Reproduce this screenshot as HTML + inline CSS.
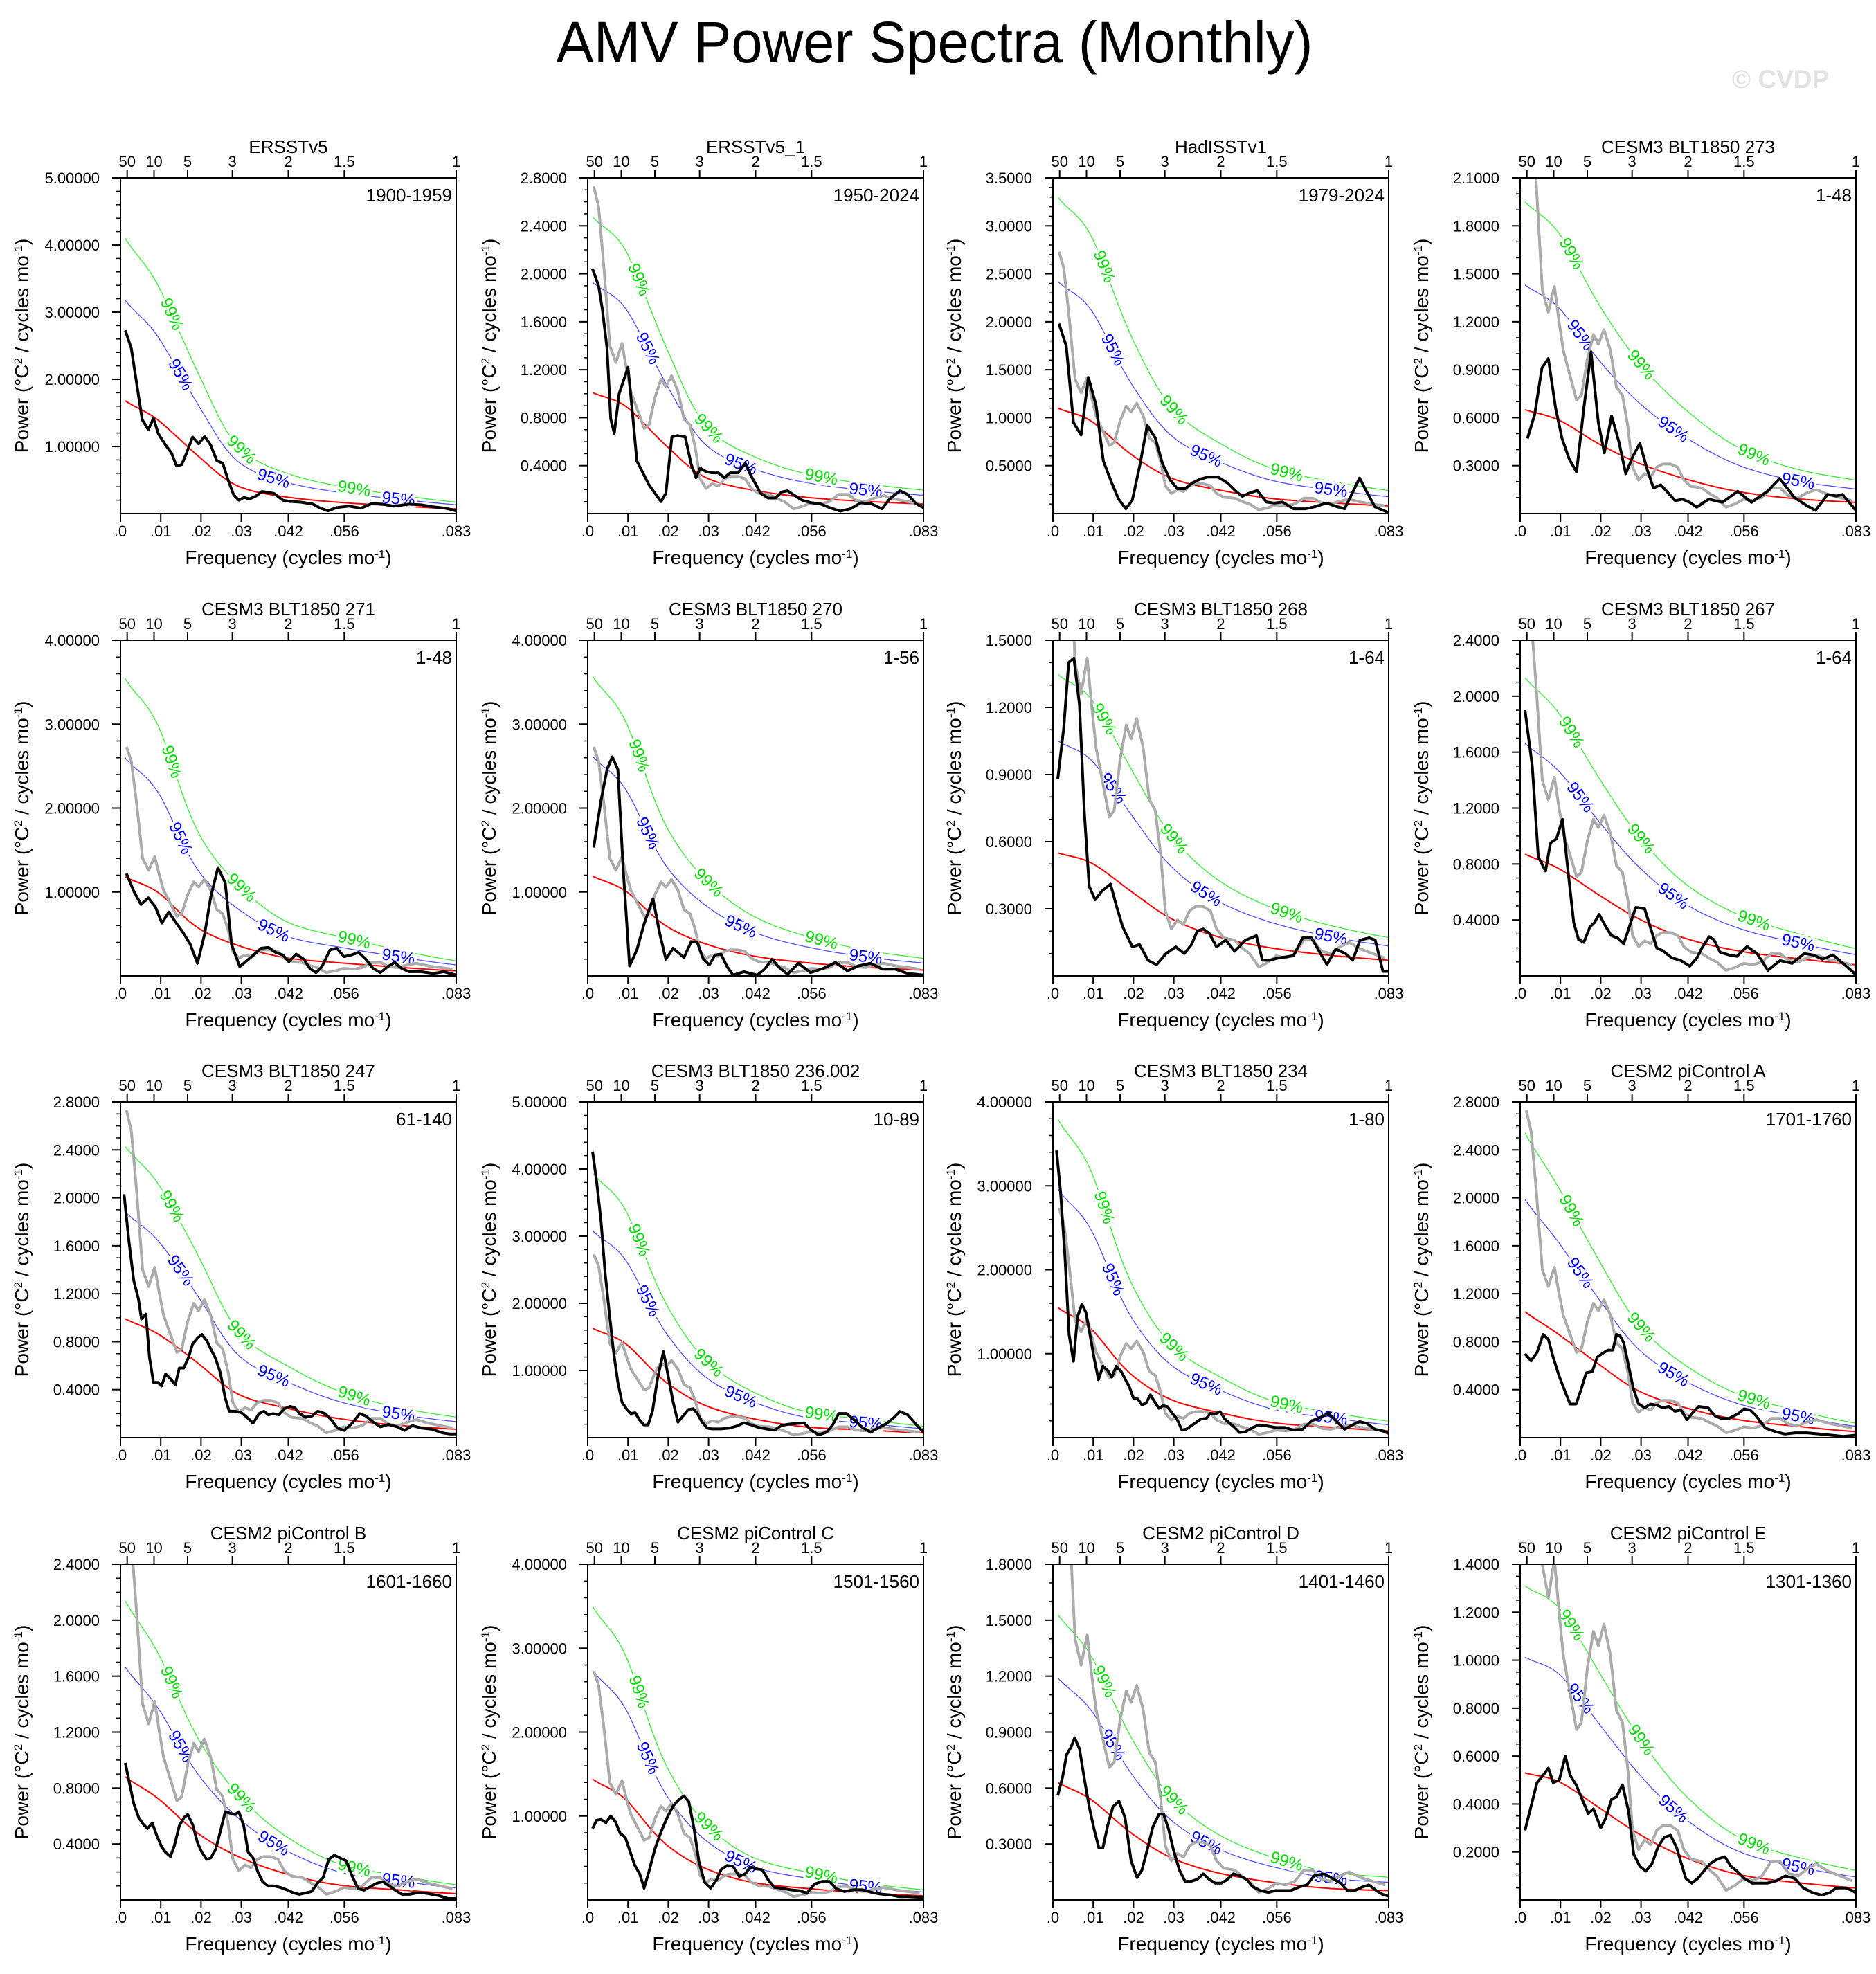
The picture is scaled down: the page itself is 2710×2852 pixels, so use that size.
<!DOCTYPE html>
<html><head><meta charset="utf-8"><title>AMV Power Spectra (Monthly)</title>
<style>
html,body{margin:0;padding:0;background:#fff;}
svg{display:block;font-family:"Liberation Sans",Arial,sans-serif;}
</style></head>
<body>
<svg id="fig" xmlns="http://www.w3.org/2000/svg" width="2710" height="2852" viewBox="0 0 2710 2852">
<rect x="0" y="0" width="2710" height="2852" fill="#fff"/>
<text x="1350" y="90" font-size="84" text-anchor="middle" fill="#000" textLength="1093" lengthAdjust="spacingAndGlyphs">AMV Power Spectra (Monthly)</text>
<text x="2572" y="127" font-size="37" font-weight="bold" text-anchor="middle" fill="#e2e2e2">© CVDP</text>
</svg>
<script>
// ---------- shared data ----------
const redFreqs = [0.0012, 0.01, 0.02, 0.03, 0.042, 0.056, 0.07, 0.0833];
const freqTickValues = [0, 0.01, 0.02, 0.03, 0.04167, 0.05556, 0.08333];
const freqTickLabels = [".0", ".01", ".02", ".03", ".042", ".056", ".083"];
const periodTickYears = [50, 10, 5, 3, 2, 1.5, 1];
const periodTickLabels = ["50", "10", "5", "3", "2", "1.5", "1"];
const sigLabel99Freqs = [0.0127, 0.030, 0.058];
const sigLabel95Freqs = [0.0149, 0.038, 0.069];

// observed reference spectrum (gray), absolute units
const obsGray = [[.0015,2.73],[.0027,2.56],[.004,2.06],[.0055,1.40],[.007,1.26],[.0085,1.42],[.0096,1.21],[.0107,1.02],[.0122,0.88],[.014,0.71],[.0152,0.74],[.0167,0.97],[.0182,1.12],[.0194,1.06],[.0208,1.15],[.0224,1.02],[.0239,0.79],[.0254,0.74],[.0267,0.55],[.0279,0.29],[.0294,0.21],[.0309,0.25],[.0324,0.23],[.0339,0.29],[.0354,0.31],[.0373,0.31],[.0391,0.29],[.0406,0.21],[.0424,0.17],[.0451,0.16],[.0473,0.12],[.0488,0.10],[.0511,0.04],[.0533,0.06],[.0555,0.09],[.0578,0.08],[.060,0.10],[.0623,0.16],[.0645,0.16],[.0667,0.11],[.069,0.10],[.0712,0.13],[.0735,0.15],[.0764,0.12],[.0794,0.10],[.0824,0.08]];

// ---------- per-panel spectra (black) ----------
const p1Black = [[.0012,2.73],[.0027,2.46],[.0042,1.87],[.0054,1.40],[.0069,1.25],[.0082,1.42],[.0094,1.19],[.0112,1.02],[.0127,0.90],[.0139,0.71],[.0152,0.73],[.0164,0.90],[.0179,1.14],[.0194,1.04],[.0209,1.15],[.0224,1.02],[.0239,0.79],[.0254,0.75],[.0266,0.52],[.0281,0.28],[.0294,0.20],[.0306,0.24],[.0321,0.22],[.0336,0.26],[.0351,0.33],[.0381,0.30],[.0403,0.20],[.0421,0.18],[.0448,0.17],[.0478,0.14],[.0493,0.09],[.0515,0.04],[.0537,0.09],[.0567,0.11],[.0597,0.08],[.0624,0.15],[.0649,0.14],[.0679,0.11],[.0716,0.14],[.0746,0.13],[.0776,0.10],[.0806,0.08],[.0833,0.04]];
const p2Black = [[.0012,2.04],[.0027,1.90],[.0036,1.71],[.0048,1.38],[.0057,0.79],[.0066,0.67],[.0078,1.00],[.010,1.22],[.011,0.88],[.0122,0.44],[.0137,0.34],[.0152,0.24],[.0167,0.17],[.0182,0.10],[.0194,0.17],[.0209,0.64],[.0222,0.65],[.0242,0.64],[.0257,0.41],[.0269,0.30],[.0279,0.38],[.0294,0.35],[.0309,0.34],[.0324,0.34],[.0339,0.30],[.0354,0.34],[.0373,0.34],[.0391,0.42],[.0406,0.31],[.0418,0.24],[.0429,0.17],[.0448,0.13],[.0466,0.13],[.0481,0.18],[.0496,0.19],[.0514,0.15],[.0533,0.11],[.0555,0.09],[.0578,0.08],[.060,0.05],[.0627,0.02],[.0652,0.04],[.0678,0.09],[.0705,0.08],[.073,0.04],[.0749,0.12],[.0775,0.19],[.0794,0.16],[.0816,0.08],[.0833,0.05]];
const p3Black = [[.0015,1.98],[.0033,1.75],[.0051,0.95],[.007,0.82],[.0088,1.42],[.0107,1.13],[.0125,0.55],[.0145,0.33],[.0163,0.15],[.0181,0.05],[.0197,0.14],[.0216,0.51],[.0234,0.92],[.0254,0.79],[.0272,0.52],[.0291,0.35],[.0309,0.26],[.0328,0.26],[.0346,0.32],[.0366,0.36],[.0384,0.38],[.041,0.38],[.0433,0.32],[.0455,0.23],[.047,0.18],[.0485,0.21],[.0507,0.24],[.053,0.12],[.0549,0.11],[.057,0.12],[.0597,0.05],[.0627,0.05],[.0649,0.07],[.0679,0.11],[.0699,0.08],[.0724,0.05],[.0761,0.37],[.0799,0.07],[.0833,0.01]];
const p4Black = [[.0018,0.47],[.0036,0.62],[.0054,0.91],[.007,0.97],[.0088,0.66],[.0104,0.47],[.0122,0.34],[.014,0.26],[.0158,0.66],[.0176,1.01],[.0194,0.57],[.0209,0.38],[.0227,0.61],[.0245,0.45],[.0262,0.25],[.028,0.36],[.0297,0.44],[.0316,0.27],[.0331,0.16],[.0349,0.18],[.0367,0.13],[.0385,0.08],[.0403,0.09],[.0421,0.07],[.0438,0.04],[.0468,0.09],[.0502,0.07],[.054,0.14],[.0574,0.07],[.0614,0.14],[.0644,0.22],[.0681,0.10],[.0711,0.05],[.0733,0.02],[.0763,0.12],[.0785,0.11],[.080,0.12],[.0833,0.02]];
const p5Black = [[.0015,1.22],[.0033,1.01],[.0051,0.85],[.0069,0.93],[.0087,0.82],[.0103,0.63],[.012,0.76],[.0137,0.64],[.0155,0.52],[.0173,0.38],[.0191,0.15],[.0209,0.50],[.0224,0.94],[.0242,1.29],[.026,1.11],[.0276,0.37],[.0296,0.11],[.0313,0.18],[.0331,0.25],[.0349,0.33],[.0367,0.34],[.0385,0.28],[.0403,0.25],[.0418,0.17],[.0436,0.26],[.0455,0.20],[.047,0.09],[.0485,0.04],[.050,0.11],[.052,0.31],[.0537,0.33],[.0555,0.23],[.0573,0.25],[.0591,0.28],[.0609,0.20],[.0627,0.09],[.0645,0.04],[.0663,0.11],[.068,0.16],[.0698,0.09],[.0716,0.05],[.0746,0.05],[.0776,0.03],[.0803,0.05],[.0833,0.01]];
const p6Black = [[.0015,1.53],[.0033,2.09],[.0048,2.46],[.0061,2.61],[.0075,2.46],[.0088,1.28],[.0104,0.12],[.0122,0.31],[.014,0.62],[.0162,0.92],[.0179,0.50],[.0194,0.20],[.0212,0.33],[.0239,0.22],[.0257,0.41],[.0272,0.40],[.0287,0.20],[.0302,0.13],[.0316,0.25],[.0331,0.26],[.0346,0.11],[.0361,0.01],[.0388,0.05],[.0421,0.01],[.0439,0.08],[.0458,0.20],[.0473,0.11],[.0496,0.02],[.0523,0.15],[.0553,0.04],[.0585,0.09],[.0615,0.16],[.0645,0.06],[.0672,0.12],[.0702,0.15],[.0732,0.08],[.0764,0.08],[.0794,0.03],[.0833,0.01]];
const p7Black = [[.0012,0.88],[.0027,1.11],[.0039,1.40],[.0052,1.42],[.0066,1.21],[.0078,0.73],[.009,0.40],[.0105,0.34],[.0122,0.38],[.0143,0.41],[.0158,0.31],[.0173,0.22],[.0197,0.13],[.0215,0.14],[.0236,0.07],[.0257,0.05],[.0281,0.10],[.0305,0.13],[.0326,0.10],[.0344,0.14],[.0358,0.20],[.0373,0.21],[.0388,0.19],[.0406,0.13],[.0429,0.16],[.0451,0.11],[.0478,0.16],[.0505,0.18],[.052,0.07],[.0537,0.07],[.056,0.08],[.0597,0.09],[.062,0.17],[.0642,0.17],[.068,0.05],[.0702,0.12],[.0726,0.10],[.0744,0.07],[.0762,0.16],[.0785,0.17],[.080,0.16],[.0819,0.02],[.0833,0.02]];
const p8Black = [[.0012,1.90],[.003,1.50],[.0045,0.85],[.0063,0.75],[.0075,0.95],[.009,0.98],[.0105,1.12],[.0118,0.77],[.0133,0.38],[.0145,0.26],[.0158,0.24],[.0173,0.35],[.0184,0.38],[.0196,0.44],[.0211,0.36],[.0226,0.29],[.0242,0.27],[.0257,0.23],[.0272,0.36],[.0287,0.49],[.0309,0.48],[.0324,0.34],[.0339,0.20],[.0354,0.18],[.0376,0.13],[.0399,0.11],[.0421,0.07],[.0439,0.13],[.0451,0.20],[.0469,0.28],[.0481,0.26],[.0496,0.17],[.0518,0.15],[.0538,0.14],[.0563,0.21],[.0588,0.16],[.0615,0.04],[.0645,0.11],[.0675,0.09],[.0705,0.16],[.0727,0.15],[.075,0.12],[.0776,0.15],[.0801,0.09],[.0833,0.01]];
const p9Black = [[.0009,2.03],[.0021,1.64],[.0033,1.31],[.0045,1.15],[.0052,0.99],[.0063,1.03],[.0072,0.67],[.0082,0.46],[.0093,0.46],[.0102,0.43],[.0112,0.53],[.0124,0.49],[.0136,0.44],[.0146,0.58],[.0157,0.58],[.0169,0.67],[.0179,0.78],[.0191,0.83],[.0202,0.86],[.0214,0.81],[.0224,0.74],[.0236,0.66],[.0248,0.54],[.026,0.33],[.027,0.22],[.0284,0.22],[.0299,0.21],[.0314,0.17],[.0329,0.12],[.0344,0.20],[.0356,0.22],[.0367,0.19],[.0379,0.20],[.0393,0.19],[.0406,0.24],[.0421,0.26],[.0433,0.25],[.0445,0.20],[.046,0.17],[.0475,0.18],[.049,0.22],[.0508,0.20],[.0523,0.15],[.0538,0.08],[.0555,0.06],[.0575,0.12],[.0594,0.20],[.0609,0.18],[.0627,0.13],[.0645,0.09],[.0665,0.11],[.0687,0.09],[.0705,0.06],[.0724,0.10],[.0746,0.08],[.0773,0.07],[.0799,0.04],[.0818,0.03],[.0833,0.03]];
const p10Black = [[.0012,4.26],[.0022,3.82],[.0033,3.23],[.0043,2.47],[.0054,1.84],[.0064,1.29],[.0075,0.82],[.0085,0.53],[.0096,0.43],[.0107,0.36],[.0118,0.37],[.0128,0.27],[.0139,0.19],[.015,0.19],[.0161,0.40],[.0173,0.87],[.0188,1.28],[.020,0.91],[.0212,0.53],[.0224,0.23],[.0236,0.32],[.025,0.42],[.0262,0.43],[.0272,0.36],[.0284,0.23],[.0297,0.14],[.0309,0.13],[.0331,0.13],[.035,0.14],[.0369,0.17],[.0388,0.22],[.0406,0.19],[.0424,0.15],[.0443,0.13],[.0463,0.11],[.0481,0.18],[.0499,0.20],[.0518,0.21],[.0537,0.22],[.0555,0.11],[.0573,0.04],[.0593,0.08],[.0608,0.19],[.0623,0.36],[.0642,0.36],[.066,0.27],[.0682,0.15],[.0702,0.08],[.0723,0.15],[.0742,0.21],[.076,0.30],[.0775,0.39],[.0794,0.34],[.0813,0.21],[.0833,0.08]];
const p11Black = [[.0009,3.42],[.0019,2.92],[.003,2.14],[.004,1.23],[.0051,0.91],[.0061,1.44],[.0072,1.59],[.0082,1.49],[.0093,1.20],[.0103,0.93],[.0113,0.69],[.0124,0.85],[.0136,0.80],[.0146,0.72],[.0157,0.85],[.0169,0.79],[.0179,0.70],[.019,0.60],[.020,0.47],[.0211,0.46],[.0221,0.39],[.0231,0.41],[.0242,0.51],[.0252,0.43],[.0263,0.35],[.0273,0.38],[.0284,0.37],[.0296,0.29],[.0308,0.22],[.032,0.09],[.0331,0.10],[.0343,0.14],[.0355,0.18],[.0367,0.22],[.0381,0.23],[.0391,0.29],[.0403,0.28],[.0415,0.31],[.0427,0.22],[.0439,0.17],[.0451,0.12],[.0463,0.06],[.0478,0.07],[.0496,0.12],[.0511,0.15],[.053,0.14],[.0552,0.12],[.0575,0.12],[.0597,0.09],[.062,0.10],[.0642,0.20],[.0664,0.24],[.0684,0.29],[.0702,0.20],[.0724,0.10],[.0743,0.15],[.0761,0.19],[.0779,0.17],[.0799,0.10],[.0818,0.08],[.0833,0.05]];
const p12Black = [[.0012,0.70],[.0027,0.64],[.0042,0.71],[.0057,0.86],[.007,0.82],[.0082,0.67],[.0097,0.51],[.0112,0.38],[.0124,0.28],[.0139,0.28],[.0152,0.41],[.0164,0.54],[.0179,0.55],[.0191,0.67],[.0203,0.70],[.0218,0.73],[.023,0.73],[.0239,0.86],[.0248,0.85],[.0257,0.79],[.0269,0.60],[.0281,0.41],[.0294,0.28],[.0309,0.25],[.0324,0.28],[.0339,0.27],[.0354,0.25],[.0369,0.26],[.0384,0.22],[.0399,0.23],[.0414,0.15],[.0429,0.21],[.0443,0.26],[.0466,0.25],[.0484,0.18],[.0499,0.16],[.0518,0.16],[.0541,0.20],[.0556,0.24],[.0571,0.23],[.0586,0.18],[.0608,0.08],[.0633,0.05],[.0657,0.03],[.0683,0.04],[.0712,0.04],[.0742,0.03],[.0772,0.02],[.0802,0.01],[.0833,0.02]];
const p13Black = [[.0012,0.98],[.0022,0.84],[.0033,0.69],[.0045,0.59],[.0057,0.54],[.0067,0.51],[.0079,0.55],[.009,0.46],[.0102,0.38],[.0112,0.34],[.0124,0.31],[.0134,0.39],[.0146,0.53],[.0158,0.59],[.0167,0.61],[.0179,0.54],[.0191,0.41],[.0202,0.34],[.0214,0.29],[.0224,0.30],[.0236,0.36],[.0248,0.49],[.026,0.63],[.0272,0.62],[.0284,0.61],[.0294,0.63],[.0306,0.53],[.0317,0.34],[.0329,0.30],[.0341,0.20],[.0353,0.13],[.0366,0.10],[.0381,0.10],[.0396,0.09],[.0415,0.07],[.043,0.05],[.0444,0.04],[.0459,0.05],[.0474,0.06],[.0489,0.12],[.0503,0.16],[.0517,0.29],[.0531,0.32],[.0545,0.30],[.056,0.28],[.0575,0.17],[.059,0.08],[.0605,0.07],[.0623,0.10],[.0637,0.12],[.0652,0.13],[.0667,0.10],[.0682,0.07],[.0699,0.04],[.0717,0.04],[.0735,0.05],[.0754,0.05],[.0773,0.04],[.0791,0.03],[.0813,0.01],[.0833,0.01]];
const p14Black = [[.0012,0.85],[.0022,0.95],[.0033,0.96],[.0045,0.92],[.0057,1.00],[.0069,0.93],[.0081,0.79],[.0093,0.75],[.0105,0.58],[.0117,0.41],[.0129,0.31],[.014,0.14],[.0152,0.34],[.0167,0.61],[.0182,0.81],[.0197,0.98],[.0212,1.12],[.0227,1.20],[.0239,1.24],[.0251,1.17],[.0264,0.85],[.0276,0.46],[.029,0.21],[.0305,0.14],[.032,0.24],[.0331,0.36],[.0346,0.41],[.0361,0.40],[.0376,0.28],[.0391,0.31],[.0403,0.39],[.0418,0.37],[.0433,0.36],[.0448,0.24],[.0463,0.15],[.0481,0.14],[.0503,0.12],[.0526,0.11],[.0544,0.08],[.0563,0.19],[.0582,0.22],[.060,0.22],[.0618,0.13],[.0637,0.10],[.066,0.12],[.0682,0.12],[.0705,0.09],[.0727,0.07],[.075,0.06],[.0772,0.04],[.0794,0.04],[.0833,0.03]];
const p15Black = [[.0012,0.56],[.0024,0.66],[.0034,0.78],[.0045,0.82],[.0054,0.87],[.0066,0.81],[.0078,0.65],[.009,0.50],[.0102,0.38],[.0114,0.28],[.0124,0.28],[.0136,0.40],[.0149,0.50],[.0164,0.53],[.0179,0.44],[.0194,0.21],[.0209,0.12],[.0221,0.16],[.0233,0.26],[.0248,0.39],[.0263,0.46],[.0275,0.46],[.0287,0.38],[.0299,0.27],[.0314,0.16],[.0328,0.10],[.0343,0.10],[.0358,0.11],[.0373,0.14],[.0388,0.11],[.0403,0.09],[.0418,0.09],[.0433,0.11],[.0448,0.14],[.0463,0.13],[.0481,0.11],[.0496,0.07],[.0515,0.05],[.0535,0.04],[.0552,0.05],[.057,0.05],[.059,0.05],[.0612,0.07],[.063,0.08],[.0649,0.13],[.0672,0.14],[.069,0.12],[.0714,0.09],[.0731,0.05],[.0749,0.05],[.0769,0.07],[.0784,0.08],[.0803,0.05],[.0818,0.03],[.0833,0.02]];
const p16Black = [[.0012,0.29],[.0027,0.39],[.0042,0.49],[.0057,0.52],[.007,0.55],[.0082,0.49],[.0097,0.50],[.0112,0.60],[.0124,0.52],[.0139,0.48],[.0154,0.42],[.0169,0.36],[.0182,0.38],[.020,0.30],[.0212,0.34],[.0227,0.42],[.0239,0.43],[.0254,0.48],[.0269,0.37],[.0282,0.19],[.0297,0.14],[.0312,0.12],[.0327,0.15],[.0342,0.22],[.0357,0.26],[.0373,0.27],[.0388,0.22],[.0411,0.09],[.0426,0.07],[.0441,0.09],[.0456,0.12],[.0471,0.15],[.0489,0.17],[.0508,0.18],[.0523,0.14],[.0538,0.12],[.0556,0.09],[.0576,0.07],[.0594,0.07],[.0613,0.07],[.0636,0.08],[.0658,0.10],[.0681,0.09],[.0703,0.05],[.0726,0.03],[.0748,0.02],[.0768,0.03],[.0785,0.05],[.0808,0.05],[.0823,0.04],[.0833,0.03]];

// ---------- per-panel red-noise fits at redFreqs ----------
const p1Red = [1.68,1.36,0.82,0.39,0.24,0.16,0.11,0.07];
const p2Red = [1.01,0.88,0.55,0.29,0.19,0.13,0.10,0.08];
const p3Red = [1.10,0.95,0.60,0.36,0.24,0.15,0.11,0.08];
const p4Red = [0.65,0.58,0.43,0.31,0.21,0.13,0.09,0.07];
const p5Red = [1.18,0.97,0.55,0.35,0.21,0.15,0.10,0.06];
const p6Red = [1.19,0.99,0.58,0.37,0.23,0.15,0.10,0.07];
const p7Red = [0.55,0.50,0.37,0.25,0.17,0.12,0.09,0.07];
const p8Red = [0.87,0.76,0.57,0.40,0.26,0.17,0.12,0.08];
const p9Red = [0.99,0.85,0.60,0.35,0.24,0.15,0.10,0.07];
const p10Red = [1.63,1.37,0.80,0.46,0.27,0.15,0.11,0.07];
const p11Red = [1.55,1.27,0.73,0.44,0.29,0.17,0.12,0.08];
const p12Red = [1.05,0.85,0.60,0.38,0.24,0.14,0.09,0.05];
const p13Red = [0.88,0.71,0.46,0.30,0.18,0.10,0.07,0.045];
const p14Red = [1.44,1.17,0.64,0.36,0.20,0.13,0.08,0.05];
const p15Red = [0.63,0.53,0.35,0.22,0.14,0.09,0.06,0.05];
const p16Red = [0.53,0.49,0.38,0.27,0.17,0.10,0.07,0.05];

// ---------- per-panel significance multipliers [95%, 99%] ----------
const sigMultipliers = [[1.89,2.44],[1.91,2.45],[2.2,3.0],[2.2,3.0],[2.2,3.0],[2.2,3.0],[1.91,2.45],[1.91,2.45],[1.9,2.45],[1.89,2.42],[1.91,2.45],[1.89,2.42],[1.89,2.43],[1.9,2.43],[1.89,2.43],[1.91,2.47]];

// ---------- per-panel titles / periods / axis settings ----------
const panelTitles = ["ERSSTv5","ERSSTv5_1","HadISSTv1","CESM3 BLT1850 273","CESM3 BLT1850 271","CESM3 BLT1850 270","CESM3 BLT1850 268","CESM3 BLT1850 267","CESM3 BLT1850 247","CESM3 BLT1850 236.002","CESM3 BLT1850 234","CESM2 piControl A","CESM2 piControl B","CESM2 piControl C","CESM2 piControl D","CESM2 piControl E"];
const panelPeriods = ["1900-1959","1950-2024","1979-2024","1-48","1-48","1-56","1-64","1-64","61-140","10-89","1-80","1701-1760","1601-1660","1501-1560","1401-1460","1301-1360"];
const yMaxValues = [5.0,2.8,3.5,2.1,4.0,4.0,1.5,2.4,2.8,5.0,4.0,2.8,2.4,4.0,1.8,1.4];
const yMajorSteps = [1,0.4,0.5,0.3,1,1,0.3,0.4,0.4,1,1,0.4,0.4,1,0.3,0.2];
const yMinorSteps = [0.2,0.1,0.1,0.1,0.2,0.2,0.1,0.1,0.1,0.2,0.2,0.1,0.1,0.2,0.1,0.05];

const blackSeries = [p1Black,p2Black,p3Black,p4Black,p5Black,p6Black,p7Black,p8Black,p9Black,p10Black,p11Black,p12Black,p13Black,p14Black,p15Black,p16Black];
const redSeries = [p1Red,p2Red,p3Red,p4Red,p5Red,p6Red,p7Red,p8Red,p9Red,p10Red,p11Red,p12Red,p13Red,p14Red,p15Red,p16Red];

// ---------- layout ----------
const colX = [174, 849, 1521, 2196];
const rowY = [257, 925, 1592, 2260];
const PW = 485, PH = 485, FMAX = 1/12;
const NS = "http://www.w3.org/2000/svg";
const svg = document.getElementById("fig");

function mk(tag, attrs, parent){
  const e = document.createElementNS(NS, tag);
  for (const k in attrs) e.setAttribute(k, attrs[k]);
  parent.appendChild(e);
  return e;
}
function monotone(xs, ys){
  const n = xs.length, d = [], m = new Array(n);
  for (let i=0;i<n-1;i++) d.push((ys[i+1]-ys[i])/(xs[i+1]-xs[i]));
  m[0]=d[0]; m[n-1]=d[n-2];
  for (let i=1;i<n-1;i++) m[i] = (d[i-1]*d[i]<=0)?0:(d[i-1]+d[i])/2;
  for (let i=0;i<n-1;i++){
    if (d[i]===0){m[i]=0;m[i+1]=0;continue;}
    const a=m[i]/d[i], b=m[i+1]/d[i], s=a*a+b*b;
    if (s>9){const t=3/Math.sqrt(s); m[i]=t*a*d[i]; m[i+1]=t*b*d[i];}
  }
  return function(x){
    let i=0; while(i<n-2 && x>xs[i+1]) i++;
    const h=xs[i+1]-xs[i], t=(x-xs[i])/h, t2=t*t, t3=t2*t;
    return (2*t3-3*t2+1)*ys[i]+(t3-2*t2+t)*h*m[i]+(-2*t3+3*t2)*ys[i+1]+(t3-t2)*h*m[i+1];
  };
}
function logSmooth(xs, vals){
  const f = monotone(xs, vals.map(v=>Math.log(v)));
  return x => Math.exp(f(x));
}

for (let p=0;p<16;p++){
  const x0 = colX[p%4], y0 = rowY[Math.floor(p/4)];
  const ymax = yMaxValues[p];
  const xs = f => x0 + f/FMAX*PW;
  const ys = v => y0 + PH - v/ymax*PH;
  const g = mk("g", {}, svg);
  
  

  const clip = mk("clipPath", {id:"clip"+p}, g);
  mk("rect", {x:x0, y:y0, width:PW, height:PH}, clip);

  const red = logSmooth(redFreqs, redSeries[p]);
  const sig = sigMultipliers[p];
  const curveDefs = [[1,"#ff0000",2,"red-noise-curve"],[sig[0],"#5050ff",1.3,"sig95-curve"],[sig[1],"#33ee33",1.3,"sig99-curve"]];
  const cg = mk("g", {"clip-path":"url(#clip"+p+")"}, g);
  
  
  for (const cd of curveDefs){
    let d="";
    for (let k=0;k<=160;k++){
      const f = redFreqs[0] + (FMAX-redFreqs[0])*k/160;
      d += (k?"L":"M")+xs(f).toFixed(1)+","+ys(red(f)*cd[0]).toFixed(1);
    }
    const path = mk("path", {d:d, fill:"none", stroke:cd[1], "stroke-width":cd[2]}, cg);
    
    
  }
  const labelSets = [[sig[1],"99%","#00dd00",sigLabel99Freqs],[sig[0],"95%","#0000ff",sigLabel95Freqs]];
  for (const ls of labelSets){
    for (const f of ls[3]){
      const px = xs(f), py = ys(red(f)*ls[0]);
      const dx = xs(f+0.0015)-xs(f-0.0015), dy = ys(red(f+0.0015)*ls[0])-ys(red(f-0.0015)*ls[0]);
      const ang = Math.atan2(dy,dx)*180/Math.PI;
      const t = mk("text", {x:px, y:py, "font-size":24, fill:ls[2], "text-anchor":"middle", "dominant-baseline":"central",
        stroke:"#fff", "stroke-width":8, "paint-order":"stroke", "stroke-linejoin":"round",
        transform:"rotate("+ang.toFixed(1)+" "+px.toFixed(1)+" "+py.toFixed(1)+")"}, cg);
      t.textContent = ls[1];
      
      
    }
  }
  if (p>0){
    const d = obsGray.map((pt,i)=>(i?"L":"M")+xs(pt[0]).toFixed(1)+","+ys(pt[1]).toFixed(1)).join("");
    const gp = mk("path", {d:d, fill:"none", stroke:"#ababab", "stroke-width":4, "stroke-linejoin":"round", "clip-path":"url(#clip"+p+")"}, g);
    
    
  }
  {
    const d = blackSeries[p].map((pt,i)=>(i?"L":"M")+xs(pt[0]).toFixed(1)+","+ys(pt[1]).toFixed(1)).join("");
    const bp = mk("path", {d:d, fill:"none", stroke:"#000", "stroke-width":4, "stroke-linejoin":"round", "clip-path":"url(#clip"+p+")"}, g);
    
    
  }
  const fr = mk("rect", {x:x0, y:y0, width:PW, height:PH, fill:"none", stroke:"#000", "stroke-width":2}, g);
  
  

  const yax = mk("g", {}, g);
  
  
  const nMinor = Math.round(ymax/yMinorSteps[p]);
  for (let k=1;k<=nMinor;k++){
    const v = k*yMinorSteps[p];
    mk("line", {x1:x0-6, x2:x0, y1:ys(v), y2:ys(v), stroke:"#000", "stroke-width":1.5}, yax);
  }
  const nMajor = Math.round(ymax/yMajorSteps[p]);
  const dec = ymax>=4 ? 5 : 4;
  for (let k=1;k<=nMajor;k++){
    const v = k*yMajorSteps[p];
    mk("line", {x1:x0-12, x2:x0, y1:ys(v), y2:ys(v), stroke:"#000", "stroke-width":2}, yax);
    const t = mk("text", {x:x0-30, y:ys(v)+8, "font-size":22, "text-anchor":"end", fill:"#000"}, yax);
    t.textContent = v.toFixed(dec);
    
    
  }
  const yt = mk("text", {x:0, y:0, "font-size":28, "text-anchor":"middle", fill:"#000",
    transform:"translate("+(x0-133)+","+(y0+PH/2)+") rotate(-90)"}, yax);
  yt.innerHTML = 'Power (°C<tspan baseline-shift="super" font-size="17">2</tspan> / cycles mo<tspan baseline-shift="super" font-size="17">-1</tspan>)';
  
  

  const xax = mk("g", {}, g);
  
  
  freqTickValues.forEach((f,i)=>{
    mk("line", {x1:xs(f), x2:xs(f), y1:y0+PH, y2:y0+PH+12, stroke:"#000", "stroke-width":2}, xax);
    const t = mk("text", {x:xs(f), y:y0+PH+33, "font-size":22, "text-anchor":"middle", fill:"#000"}, xax);
    t.textContent = freqTickLabels[i];
    
    
  });
  const xt = mk("text", {x:x0+PW/2, y:y0+PH+73, "font-size":28, "text-anchor":"middle", fill:"#000"}, xax);
  xt.innerHTML = 'Frequency (cycles mo<tspan baseline-shift="super" font-size="17">-1</tspan>)';
  
  

  const tax = mk("g", {}, g);
  
  
  periodTickYears.forEach((yr,i)=>{
    const f = 1/(12*yr);
    mk("line", {x1:xs(f), x2:xs(f), y1:y0, y2:y0-12, stroke:"#000", "stroke-width":2}, tax);
    const t = mk("text", {x:xs(f), y:y0-16, "font-size":22, "text-anchor":"middle", fill:"#000"}, tax);
    t.textContent = periodTickLabels[i];
    
    
  });

  const tt = mk("text", {x:x0+PW/2, y:y0-36, "font-size":26, "text-anchor":"middle", fill:"#000"}, g);
  tt.textContent = panelTitles[p];
  
  
  const pt = mk("text", {x:x0+PW-6, y:y0+34, "font-size":26, "text-anchor":"end", fill:"#000"}, g);
  pt.textContent = panelPeriods[p];
  
  
}
</script>
</body></html>
